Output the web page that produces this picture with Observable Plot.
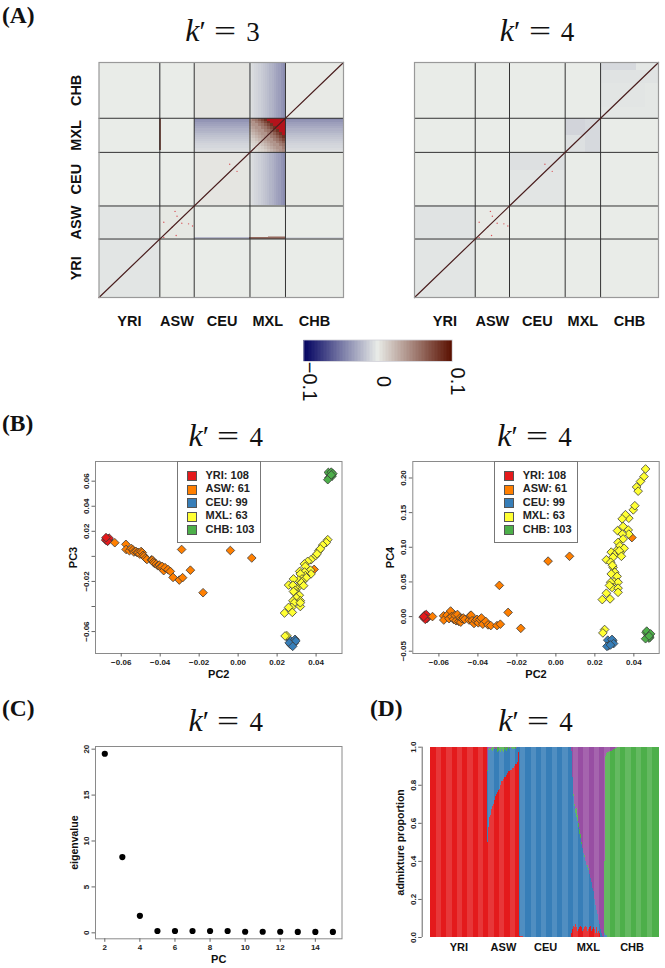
<!DOCTYPE html>
<html><head><meta charset="utf-8">
<script src="https://cdn.jsdelivr.net/npm/d3@7"></script>
<script src="https://cdn.jsdelivr.net/npm/@observablehq/plot@0.6"></script>
<style>
html,body{margin:0;padding:0;background:#fff}
#page{position:relative;width:665px;height:968px;overflow:hidden;font-family:"Liberation Sans",sans-serif}
.panel{position:absolute;font:bold 23.5px/26px "Liberation Serif",serif;color:#111}
.title{position:absolute;font:29px/34px "Liberation Serif",serif;color:#111;white-space:pre;transform:translateX(-50%)}
.title i{font-size:32px}
.title .eq{display:inline-block;margin:0 13px 0 11px;transform:scaleX(1.35)}
.title .dg{font-size:27px}
.legend{position:absolute;top:461px;width:82px;height:80px;border:1px solid #777;background:#fff;box-sizing:content-box;font:bold 11px "Liberation Sans",sans-serif;color:#222}
.legend div{position:absolute;white-space:pre;line-height:13px}
.legend span{position:absolute;width:8px;height:8px;border:.6px solid #555}
svg{position:absolute;background:transparent;overflow:visible}
</style></head><body><div id="page"></div>
<script>
// ---------- shared categories ----------
const popNames = ["YRI","ASW","CEU","MXL","CHB"];
const popSizes = [108,61,99,63,103];
const popColors = ["#e41a1c","#ff7f00","#377eb8","#ffff33","#4daf4a"];
const admixPurple = "#984ea3";
const popCuts = [0,108,169,268,331,434];
const popMids = [54,138.5,218.5,299.5,382.5];

// ---------- panel A: block values [xPop, yPop, value] ----------
const k3Blocks = [[0,0,-.003],[0,1,-.003],[1,1,.002],[2,2,.003],[2,4,.004],[4,2,.002],[4,4,.001]];
const k4Blocks = [[0,0,-.003],[0,1,-.004],[1,1,.001],[2,2,-.003],[3,3,-.005],[4,4,-.002]];
const k4Patches = [[268,331,300,331,-.01],[305,331,268,331,-.008],[169,268,235,268,-.005],[331,395,395,434,-.008],[331,434,395,420,-.004],[331,410,350,395,-.003]];
// MXL fade, 16 bins across 63 individuals
const mxlFade = [-.005,-.007,-.009,-.010,-.012,-.014,-.016,-.018,-.020,-.023,-.025,-.028,-.031,-.033,-.037,-.040];
// MXL x MXL block, rows top to bottom, columns left to right
const mxlBlock = [
[.04,.05,.055,.065,.075,.085,.12,.12,.12,.12,.12,.12],
[.04,.04,.05,.055,.065,.075,.085,.12,.12,.12,.12,.12],
[.035,.04,.04,.05,.055,.065,.075,.085,.12,.12,.12,.12],
[.03,.035,.04,.04,.05,.055,.065,.075,.085,.12,.12,.12],
[.025,.03,.035,.04,.04,.05,.055,.065,.075,.085,.12,.12],
[.02,.025,.03,.035,.04,.04,.05,.055,.065,.075,.085,.12],
[.015,.02,.025,.03,.035,.04,.04,.05,.055,.065,.075,.085],
[.012,.015,.02,.025,.03,.035,.04,.04,.05,.055,.065,.075],
[.01,.012,.015,.02,.025,.03,.035,.04,.04,.05,.055,.065],
[.007,.01,.012,.015,.02,.025,.03,.035,.04,.04,.05,.055],
[.005,.007,.01,.012,.015,.02,.025,.03,.035,.04,.04,.05],
[.003,.005,.007,.01,.012,.015,.02,.025,.03,.035,.04,.045]];
// thin bands [x1,x2,y1,y2,value]
const k3Bands = [[108,110.5,272,331,.07],[108,110,169,268,-.018],[108,110,331,434,-.013],[268,331,108,110,.06],[300,331,110,113,.03],[169,268,108,110,-.022],[331,434,108,110,-.008]];
// isolated high cells [x,y]
const heatSpots = [[135,159],[138.5,150],[115,139],[130,130],[147,137],[159,136],[166,132],[137,114.5],[115,111],[232,246],[245,233]];
const heatDomain = [-.1,0,.1,.1001,.2];
const heatRange = ["#00005f","#e9ece8","#5a1000","#b3131b","#b3131b"];
const barSteps = d3.range(-.1,.1,.002);

// ---------- panel B: [PC2, PC3, PC4] ----------
const yriPoints = [[-.0675,.0142,.001],[-.0668,.0138,-.002],[-.0672,.0125,.002],[-.0665,.0130,.003],[-.068,.0130,-.001],[-.0662,.0145,-.003],[-.0670,.0120,-.004],[-.0678,.0150,0]];
const aswPoints = [[-.0633,.0109,0],[-.0576,.0096,.001],[-.0575,.0055,-.005],[-.0558,.0045,.002],[-.0548,.0063,-.003],[-.054,.0052,.008],[-.0535,.0035,0],[-.0525,.0040,-.004],[-.0518,.0030,.002],[-.0512,.0032,-.006],[-.0505,.0018,.003],[-.0498,.0039,-.007],[-.0492,.0030,-.002],[-.0488,.0008,-.008],[-.0482,0,-.003],[-.0475,-.0015,-.002],[-.0468,-.0025,-.004],[-.0445,-.0028,-.005],[-.044,-.0030,.001],[-.0435,-.0045,.002],[-.043,-.0055,-.006],[-.042,-.0062,-.01],[-.0412,-.0075,-.006],[-.0405,-.0069,-.004],[-.0398,-.0085,-.009],[-.039,-.0080,-.004],[-.0382,-.0114,-.002],[-.0375,-.009,-.011],[-.036,-.0105,-.007],[-.0348,-.012,-.012],[-.0334,-.0168,-.013],[-.0302,-.0189,-.013],[-.0285,-.017,-.011],[-.0245,-.011,.006],[-.029,.0055,.045],[-.018,-.029,-.017],[-.004,.0047,.08],[.007,-.0013,.087],[.039,-.0104,.114]];
const ceuPoints = [[.0278,-.0686,-.038],[.0266,-.0668,-.034],[.0292,-.0662,-.035],[.0270,-.0705,-.042],[.0288,-.0692,-.033],[.0296,-.0675,-.039],[.0262,-.0690,-.043],[.0280,-.0718,-.041]];
const mxlPoints = [[.046,.0133,.213],[.0452,.011,.202],[.0434,.009,.195],[.0414,.0045,.187],[.0422,.006,.181],[.0397,.0005,.154],[.0405,.002,.16],[.0374,-.0027,.142],[.0357,-.004,.147],[.034,-.006,.141],[.0345,-.008,.13],[.0316,-.012,.124],[.0371,-.011,.125],[.0374,-.014,.119],[.0341,-.0125,.119],[.0345,-.0154,.112],[.0319,-.014,.107],[.0328,-.018,.102],[.035,-.017,.0985],[.031,-.019,.095],[.0284,-.018,.093],[.0305,-.025,.09],[.033,-.02,.092],[.0325,-.021,.095],[.0259,-.0229,.082],[.0293,-.0247,.0856],[.0336,-.0234,.087],[.0281,-.023,.0784],[.0293,-.027,.071],[.029,-.029,.074],[.0302,-.03,.064],[.0284,-.028,.0615],[.0314,-.031,.058],[.0298,-.033,.05],[.0319,-.0354,.0495],[.0281,-.0354,.0495],[.0288,-.037,.042],[.0275,-.0407,.045],[.0319,-.04,.041],[.0319,-.037,.035],[.0259,-.0407,.0337],[.0238,-.0452,.0245],[.0278,-.0447,.0255],[.025,-.0633,-.0187],[.0241,-.0635,-.0236]];
const chbPoints = [[.0472,.0652,-.0264],[.0463,.0670,-.023],[.0482,.0640,-.030],[.0478,.0672,-.031],[.0466,.0628,-.021],[.0486,.0660,-.025],[.0460,.0612,-.032],[.0478,.0650,-.028]];
const pc2Ticks = [-.06,-.04,-.02,0,.02,.04];
const pc3Ticks = [-.06,-.04,-.02,0,.02,.04,.06];
const pc3Labelled = [-.06,-.02,.02,.04,.06];
const pc4Ticks = [-.05,0,.05,.1,.15,.2];
const legendCounts = [108,61,99,63,103];

// ---------- panel C ----------
const pcIndex = [2,3,4,5,6,7,8,9,10,11,12,13,14,15];
const eigenvalues = [19.5,8.25,1.85,.2,.2,.2,.2,.2,.12,.12,.12,.1,.1,.1];

// ---------- panel D: one value per individual ----------
const aswRed = [.3,.5,.56,.58,.6,.63,.64,.66,.67,.68,.69,.7,.7,.71,.72,.73,.74,.74,.75,.76,.76,.77,.77,.78,.79,.8,.81,.82,.82,.82,.83,.83,.83,.84,.84,.84,.85,.85,.86,.86,.86,.87,.87,.87,.88,.88,.88,.89,.89,.89,.89,.9,.9,.9,.91,.91,.91,.92,.92,.93,.97];
const aswGreen = [.02,.01,0,.005,.02,.01,0,.03,.01,0,.02,0,.01,.03,0,.01,.005,.02,0,.01,.03,0,.02,.01,0,.03,.02,.01,0,.02,.01,.03,0,.01,.02,.01,0,.02,.005,.01,.02,0,.01,.02,0,.01,.005,0,.01,0,.01,0,.005,0,.01,0,0,.005,0,0,0];
const aswPurple = [.5,.12,.02,.01,.01,.005,.01,0,.005,.01,0,.005,0,.005,.01,0,.005,0,.01,0,0,.01,0,.005,0,0,.005,0,.01,0,0,0,.01,0,0,.005,0,0,.005,0,0,.005,0,0,.005,0,0,0,0,.005,0,0,0,.005,0,0,.005,0,0,0,0];
const mxlTopOfBlue = [.98,.9,.84,.78,.74,.7,.69,.67,.65,.64,.63,.61,.6,.58,.56,.54,.53,.52,.5,.49,.48,.47,.46,.44,.43,.42,.41,.4,.39,.38,.37,.36,.35,.34,.33,.32,.31,.3,.29,.27,.26,.25,.24,.22,.2,.19,.17,.16,.14,.12,.11,.09,.08,.07,.05,.04,.03,.02,.01,.005,0,0,0];
const mxlRed = [.02,.05,.04,.03,.06,.02,.05,.04,.07,.03,.05,.03,.06,.04,.02,.05,.03,.06,.04,.05,.08,.03,.05,.04,.09,.05,.03,.06,.04,.05,.03,.07,.04,.03,.05,.02,.06,.04,.03,.05,.04,.02,.05,.03,.04,.05,.02,.03,.05,.02,.04,.03,.01,.02,0,0,0,0,0,0,0,0,0];
const mxlGreen = [0,0,0,0,.01,.02,.01,.03,.02,.04,.05,.03,.06,.02,.04,.03,.01,.02,.01,.01,.01,0,.01,0,.01,.01,.01,0,.01,0,.01,0,.01,0,0,0,0,0,0,0,0,0,0,0,0,0,0,0,0,0,0,0,0,0,.02,0,0,0,0,0,0,0,0];
const chbPurple = [.6,.1,.05,.035,.03,.03,.028,.027,.026,.025,.024,.022,.02,.02,.018,.015,.014,.012,.01,.01,.008,.007,.006,.005,.004,.003,.002,.002,.001,.001];
const chbBlue = [.02,.015,.01,.01,.005];
const ceuRedStart = [.005,.005,.004,.004,.003,.004,.003,.002];
const stripeStarts = [11,31,51,71,91,111,131,151,171,191,211,231,251,271,291,311,331,351,371,391,411];
const stripeLength = 10;
const admixTicks = [0,.2,.4,.6,.8,1];

// ---------- helpers ----------
const page = document.getElementById("page");
const FONT = '"Liberation Sans",sans-serif';
function draw(frame, box, options){
  const svg = Plot.plot({
    width: box.r-box.l, height: box.b-box.t,
    marginLeft: frame.l-box.l, marginRight: box.r-frame.r,
    marginTop: frame.t-box.t, marginBottom: box.b-frame.b,
    style:{fontFamily:FONT, background:"transparent", position:"absolute", left:box.l+"px", top:box.t+"px", overflow:"visible"},
    ...options
  });
  page.appendChild(svg);
  return svg;
}
function addTitle(txt, cx, top){
  const d=document.createElement("div"); d.className="title"; d.style.left=cx+"px"; d.style.top=top+"px";
  d.innerHTML='<i>k</i>\u2032<span class="eq">=</span><span class="dg">'+txt+'</span>'; page.appendChild(d);
}
function addPanel(txt,x,y){const d=document.createElement("div");d.className="panel";d.style.left=x+"px";d.style.top=y+"px";d.textContent=txt;page.appendChild(d);}
function addLegend(left){
  const L=document.createElement("div");L.className="legend";L.style.left=left+"px";
  popNames.forEach((n,i)=>{
    const s=document.createElement("span");s.style.left="9.5px";s.style.top=(9+i*13.5)+"px";s.style.background=popColors[i];L.appendChild(s);
    const t=document.createElement("div");t.style.left="28px";t.style.top=(6.5+i*13.5)+"px";t.textContent=n+": "+legendCounts[i];L.appendChild(t);
  });
  page.appendChild(L);
}
const GRAY="#8a8a8a", TICK="#666", INK="#222";

// ---------- panel A ----------
function blockRows(blocks){return [{x1:0,x2:434,y1:0,y2:434,v:0}].concat(blocks.map(([i,j,v])=>({x1:popCuts[i],x2:popCuts[i+1],y1:popCuts[j],y2:popCuts[j+1],v})));}
function k3Cells(){
  const out=blockRows(k3Blocks), step=63/16;
  mxlFade.forEach((v,b)=>{
    const a=268+b*step, c=a+step;
    out.push({x1:a,x2:c,y1:169,y2:268,v},{x1:a,x2:c,y1:331,y2:434,v});
    out.push({x1:169,x2:268,y1:a,y2:c,v},{x1:331,x2:434,y1:a,y2:c,v});
  });
  const n=mxlBlock.length, w=63/n;
  mxlBlock.forEach((row,r)=>row.forEach((v,c)=>out.push({x1:268+c*w,x2:268+(c+1)*w,y1:331-(r+1)*w,y2:331-r*w,v})));
  k3Bands.forEach(([x1,x2,y1,y2,v])=>out.push({x1,x2,y1,y2,v}));
  return out;
}
function k4Cells(){
  const out=blockRows(k4Blocks);
  k4Patches.forEach(([x1,x2,y1,y2,v])=>out.push({x1,x2,y1,y2,v}));
  return out;
}
function heat(cells, frame, box, yLabels){
  const marks=[
    Plot.rect(cells,{x1:"x1",x2:"x2",y1:"y1",y2:"y2",fill:"v",shapeRendering:"crispEdges"}),
    Plot.dot(heatSpots,{x:d=>d[0],y:d=>d[1],r:.7,fill:"#d8555a"}),
    Plot.ruleX(popCuts.slice(1,5),{stroke:"#333",strokeWidth:1}),
    Plot.ruleY(popCuts.slice(1,5),{stroke:"#333",strokeWidth:1}),
    Plot.line([[0,0],[434,434]],{x:d=>d[0],y:d=>d[1],stroke:"#4a1e1e",strokeWidth:1.2}),
    Plot.frame({stroke:"#999",strokeWidth:1.2}),
    Plot.axisX(popMids,{anchor:"bottom",tickSize:0,tickPadding:18,fontSize:14.5,fontWeight:"bold",fill:"#111",tickFormat:(d,i)=>popNames[i],label:null})
  ];
  if(yLabels) marks.push(Plot.axisY(popMids,{anchor:"left",tickSize:0,tickPadding:18,tickRotate:-90,textAnchor:"middle",fontSize:14.5,fontWeight:"bold",fill:"#111",tickFormat:(d,i)=>popNames[i],label:null}));
  draw(frame,box,{
    x:{domain:[0,434],label:null},y:{domain:[0,434],label:null,axis:yLabels?undefined:null},
    color:{type:"linear",domain:heatDomain,range:heatRange,clamp:true,interpolate:"rgb"},
    marks
  });
}
heat(k3Cells(),{l:98.5,t:62,r:343,b:297},{l:50,t:55,r:352,b:332},true);
heat(k4Cells(),{l:414,t:62,r:658,b:297},{l:400,t:55,r:665,b:332},false);
draw({l:303.3,t:339.5,r:451.7,b:361},{l:285,t:335,r:470,b:404},{
  x:{domain:[-.1,.1],label:null,axis:null},y:{domain:[0,1],label:null,axis:null},
  color:{type:"linear",domain:heatDomain,range:heatRange,clamp:true,interpolate:"rgb"},
  marks:[
    Plot.rect(barSteps,{x1:d=>d,x2:d=>d+.0021,y1:()=>0,y2:()=>1,fill:d=>d+.001,shapeRendering:"crispEdges"}),
    Plot.frame({stroke:"#cfcfd6",strokeWidth:.8}),
    Plot.text([-.1,0,.1],{x:d=>d,frameAnchor:"bottom",dy:20,dx:-1,rotate:90,text:d=>d===0?"0":(d<0?"\u22120.1":"0.1"),fontSize:20,textAnchor:"middle",fill:"#111"})
  ]
});

// ---------- panel B ----------
const popPoints=[yriPoints,aswPoints,ceuPoints,mxlPoints,chbPoints];
const allPoints=popPoints.flatMap((pts,i)=>pts.map(p=>({pc2:p[0],pc3:p[1],pc4:p[2],fill:popColors[i]})));
function fmt2(d){return d3.format(".2f")(Math.abs(d)<1e-9?0:d).replace("-","\u2212");}
function scatter(frame,box,yKey,yDomain,xDomain,yTicks,yShown,yLab){
  draw(frame,box,{
    x:{domain:xDomain,label:null},y:{domain:yDomain,label:null},
    marks:[
      Plot.frame({stroke:GRAY,strokeWidth:1}),
      Plot.dot(allPoints,{x:"pc2",y:yKey,r:3.9,symbol:"diamond2",fill:"fill",stroke:"#3a3a3a",strokeWidth:.8}),
      Plot.axisX({ticks:pc2Ticks,tickSize:3.5,tickPadding:2,fontSize:8,fontWeight:"bold",stroke:TICK,fill:INK,tickFormat:fmt2,label:null}),
      Plot.axisY({ticks:yTicks,tickSize:3.5,tickPadding:3,tickRotate:-90,textAnchor:"middle",fontSize:8,fontWeight:"bold",stroke:TICK,fill:INK,tickFormat:d=>yShown.some(s=>Math.abs(s-d)<1e-9)?fmt2(d):"",label:null}),
      Plot.text(["PC2"],{frameAnchor:"bottom",dy:24,fontSize:11,fontWeight:"bold",fill:"#111",lineAnchor:"bottom"}),
      Plot.text([yLab],{frameAnchor:"left",dx:-22,rotate:-90,textAnchor:"middle",fontSize:11,fontWeight:"bold",fill:"#111"})
    ]
  });
}
scatter({l:95,t:461,r:341.5,b:653},{l:60,t:455,r:345,b:680},"pc3",[-.0775,.0757],[-.0732,.0533],pc3Ticks,pc3Labelled,"PC3");
scatter({l:412.3,t:461,r:658.7,b:653},{l:380,t:455,r:665,b:680},"pc4",[-.0533,.2238],[-.0734,.0530],pc4Ticks,pc4Ticks,"PC4");
addLegend(176.5);addLegend(493.7);

// ---------- panel C ----------
draw({l:95,t:746,r:341.5,b:938.3},{l:60,t:740,r:345,b:966},{
  x:{domain:[1.47,15.52],label:null},y:{domain:[-.65,20.29],label:null},
  marks:[
    Plot.frame({stroke:GRAY,strokeWidth:1}),
    Plot.dot(pcIndex.map((p,i)=>[p,eigenvalues[i]]),{x:d=>d[0],y:d=>d[1],r:3.1,fill:"#000"}),
    Plot.axisX({ticks:[2,4,6,8,10,12,14],tickSize:3.5,tickPadding:2,fontSize:8,fontWeight:"bold",stroke:TICK,fill:INK,label:null}),
    Plot.axisY({ticks:[0,5,10,15,20],tickSize:3.5,tickPadding:3,tickRotate:-90,textAnchor:"middle",fontSize:8,fontWeight:"bold",stroke:TICK,fill:INK,label:null}),
    Plot.text(["PC"],{frameAnchor:"bottom",dy:24,fontSize:11,fontWeight:"bold",fill:"#111",lineAnchor:"bottom"}),
    Plot.text(["eigenvalue"],{frameAnchor:"left",dx:-21,rotate:-90,textAnchor:"middle",fontSize:10.5,fontWeight:"bold",fill:"#111"})
  ]
});

// ---------- panel D ----------
function admixRows(){
  const rows=[];
  const push=(i,parts)=>{let y=0;parts.forEach(([v,fill])=>{if(v>0){rows.push({i,y1:y,y2:y+v,fill});y+=v;}});};
  const [R,O,B,Y,G]=popColors;
  for(let k=0;k<popSizes[0];k++) push(k,[[1,R]]);
  aswRed.forEach((r,k)=>{const g=aswGreen[k],p=aswPurple[k];push(108+k,[[r,R],[1-r-g-p,B],[g,G],[p,admixPurple]]);});
  for(let k=0;k<popSizes[2];k++){const r=ceuRedStart[k]||0;push(169+k,[[r,R],[1-r,B]]);}
  mxlTopOfBlue.forEach((t,k)=>{const r=Math.min(mxlRed[k],t),g=mxlGreen[k];push(268+k,[[r,R],[t-r,B],[g,G],[1-t-g,admixPurple]]);});
  for(let k=0;k<popSizes[4];k++){const p=chbPurple[k]||0,b=chbBlue[k]||0;push(331+k,[[b,B],[1-p-b,G],[p,admixPurple]]);}
  return rows;
}
const rows=admixRows();
draw({l:421.7,t:746.7,r:658.7,b:937},{l:390,t:740,r:665,b:960},{
  x:{domain:[-15.6,434],label:null},y:{domain:[0,1],label:null},
  marks:[
    Plot.rect(rows,{x1:"i",x2:d=>d.i+1,y1:"y1",y2:"y2",fill:"fill",shapeRendering:"crispEdges"}),
    Plot.rect(stripeStarts,{x1:d=>d,x2:d=>d+stripeLength,y1:()=>0,y2:()=>1,fill:"#fff",fillOpacity:.13,shapeRendering:"crispEdges"}),
    Plot.ruleX([-15.6],{y1:()=>0,y2:()=>1,stroke:TICK,strokeWidth:1}),
    Plot.axisY({ticks:admixTicks,tickSize:3.5,tickPadding:3,tickRotate:-90,textAnchor:"middle",fontSize:8,fontWeight:"bold",stroke:TICK,fill:INK,tickFormat:d3.format(".1f"),label:null}),
    Plot.axisX(popMids,{anchor:"bottom",tickSize:0,tickPadding:6,fontSize:11,fontWeight:"bold",fill:"#111",tickFormat:(d,i)=>popNames[i],label:null}),
    Plot.text(["admixture proportion"],{frameAnchor:"left",dx:-22,rotate:-90,textAnchor:"middle",fontSize:10.5,fontWeight:"bold",fill:"#111"})
  ]
});

// ---------- titles ----------
addPanel("(A)",2,2);addPanel("(B)",2,410);addPanel("(C)",2,695);addPanel("(D)",370,695);
addTitle("3",222.5,13);addTitle("4",537,13);
addTitle("4",225.7,418);addTitle("4",534.5,418);
addTitle("4",225.7,703);addTitle("4",535.5,703);
</script></body></html>
